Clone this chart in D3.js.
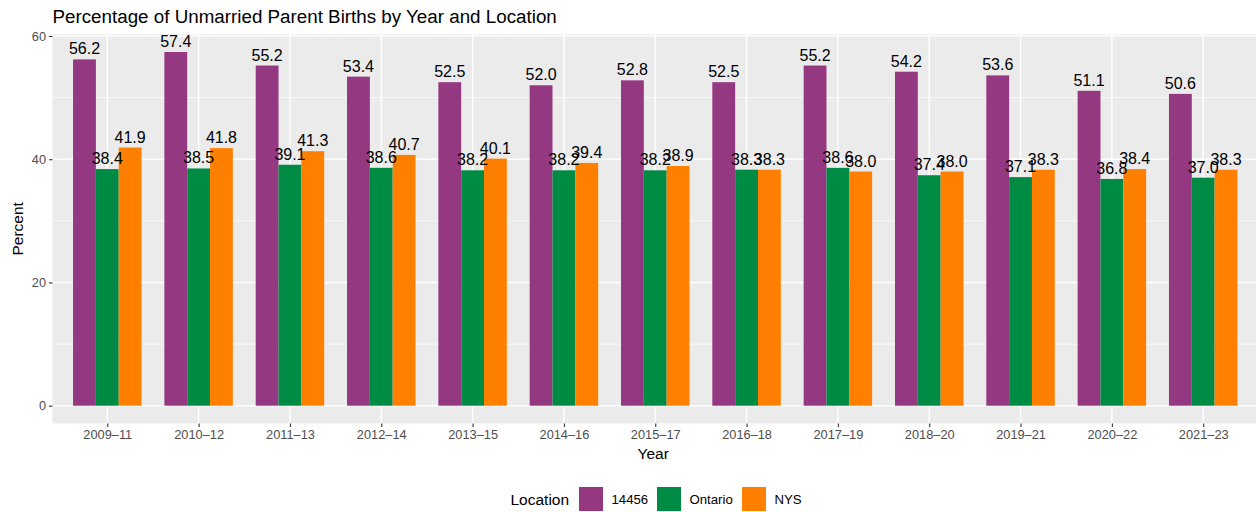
<!DOCTYPE html>
<html>
<head>
<meta charset="utf-8">
<script src="https://cdn.jsdelivr.net/npm/d3@7"></script>
<style>
  body { margin: 0; background: #fff; }
  text { font-family: "Liberation Sans", Arial, sans-serif; }
</style>
</head>
<body>
<div id="chart"></div>
<script>
// chart data
const years = ['2009–11', '2010–12', '2011–13', '2012–14', '2013–15', '2014–16', '2015–17',
               '2016–18', '2017–19', '2018–20', '2019–21', '2020–22', '2021–23'];
const locations = ['14456', 'Ontario', 'NYS'];
const zip14456 = [56.2, 57.4, 55.2, 53.4, 52.5, 52.0, 52.8, 52.5, 55.2, 54.2, 53.6, 51.1, 50.6];
const ontario = [38.4, 38.5, 39.1, 38.6, 38.2, 38.2, 38.2, 38.3, 38.6, 37.4, 37.1, 36.8, 37.0];
const nys = [41.9, 41.8, 41.3, 40.7, 40.1, 39.4, 38.9, 38.3, 38.0, 38.0, 38.3, 38.4, 38.3];
const yTicks = [0, 20, 40, 60];
const yMinor = [10, 30, 50];
const colors = ['#953882', '#008B45', '#FF8000'];

const W = 1256, H = 512;
const panel = { left: 52.5, right: 1258, top: 34.3, bottom: 423.4 };

const series = [zip14456, ontario, nys];
const rows = [];
years.forEach((yr, i) => {
    locations.forEach((loc, j) => {
        rows.push({ year: yr, loc: loc, value: series[j][i] });
    });
});

const svg = d3.select('#chart').append('svg')
    .attr('width', W)
    .attr('height', H);

const maxV = d3.max(rows, d => d.value);
const y = d3.scaleLinear()
    .domain([-0.05 * maxV, maxV * 1.05])
    .range([panel.bottom, panel.top]);

// discrete axis with 0.6 unit expansion each side
const n = years.length;
const step = (panel.right - panel.left) / (n - 1 + 1.2);
const x = d3.scalePoint()
    .domain(years)
    .range([panel.left + 0.6 * step, panel.right - 0.6 * step]);
const inner = d3.scaleBand()
    .domain(locations)
    .range([-0.375 * step, 0.375 * step])
    .padding(0);

// panel background
svg.append('rect')
    .attr('x', panel.left)
    .attr('y', panel.top)
    .attr('width', panel.right - panel.left)
    .attr('height', panel.bottom - panel.top)
    .attr('fill', '#EBEBEB');

// grid
svg.append('g').selectAll('line')
    .data(yMinor)
    .join('line')
    .attr('x1', panel.left).attr('x2', panel.right)
    .attr('y1', d => y(d)).attr('y2', d => y(d))
    .attr('stroke', '#fff').attr('stroke-width', 0.7);
svg.append('g').selectAll('line')
    .data(yTicks)
    .join('line')
    .attr('x1', panel.left).attr('x2', panel.right)
    .attr('y1', d => y(d)).attr('y2', d => y(d))
    .attr('stroke', '#fff').attr('stroke-width', 1.4);
svg.append('g').selectAll('line')
    .data(years)
    .join('line')
    .attr('x1', d => x(d)).attr('x2', d => x(d))
    .attr('y1', panel.top).attr('y2', panel.bottom)
    .attr('stroke', '#fff').attr('stroke-width', 1.4);

// bars
svg.append('g').selectAll('rect')
    .data(rows)
    .join('rect')
    .attr('x', d => x(d.year) + inner(d.loc))
    .attr('y', d => y(d.value))
    .attr('width', inner.bandwidth())
    .attr('height', d => y(0) - y(d.value))
    .attr('fill', d => colors[locations.indexOf(d.loc)]);

// value labels
svg.append('g').selectAll('text')
    .data(rows)
    .join('text')
    .attr('x', d => x(d.year) + inner(d.loc) + inner.bandwidth() / 2)
    .attr('y', d => y(d.value) - 5)
    .attr('text-anchor', 'middle')
    .attr('font-size', 16)
    .attr('fill', '#000')
    .text(d => d.value.toFixed(1));

// y axis
const yAxis = svg.append('g')
    .attr('transform', `translate(${panel.left},0)`)
    .call(d3.axisLeft(y).tickValues(yTicks).tickSize(3.5).tickPadding(3));
yAxis.select('.domain').remove();
yAxis.selectAll('line').attr('stroke', '#333').attr('stroke-width', 1.1);
yAxis.selectAll('text').attr('fill', '#4D4D4D').attr('font-size', 12.8)
    .style('font-family', '"Liberation Sans", Arial, sans-serif');

// x axis
const xAxis = svg.append('g')
    .attr('transform', `translate(0,${panel.bottom})`)
    .call(d3.axisBottom(x).tickSize(3.5).tickPadding(3));
xAxis.select('.domain').remove();
xAxis.selectAll('line').attr('stroke', '#333').attr('stroke-width', 1.1);
xAxis.selectAll('text').attr('fill', '#4D4D4D').attr('font-size', 12.8)
    .style('font-family', '"Liberation Sans", Arial, sans-serif');

// axis titles
svg.append('text')
    .attr('x', (panel.left + panel.right) / 2 - 2)
    .attr('y', 459)
    .attr('text-anchor', 'middle')
    .attr('font-size', 15.5)
    .text('Year');
svg.append('text')
    .attr('transform', `translate(23,${(panel.top + panel.bottom) / 2}) rotate(-90)`)
    .attr('text-anchor', 'middle')
    .attr('font-size', 15.5)
    .text('Percent');

// title, aligned with the panel
svg.append('text')
    .attr('x', panel.left)
    .attr('y', 23)
    .attr('font-size', 18.8)
    .text('Percentage of Unmarried Parent Births by Year and Location');

// legend
const legend = svg.append('g').attr('transform', 'translate(0,499)');
legend.append('text')
    .attr('x', 510.5)
    .attr('y', 5.5)
    .attr('font-size', 15.5)
    .text('Location');
const keyX = [579, 657, 742];
locations.forEach((loc, j) => {
    legend.append('rect')
        .attr('x', keyX[j])
        .attr('y', -12)
        .attr('width', 24)
        .attr('height', 24)
        .attr('fill', colors[j]);
    legend.append('text')
        .attr('x', keyX[j] + 32.5)
        .attr('y', 4.5)
        .attr('font-size', 13.2)
        .attr('fill', '#000')
        .text(loc);
});
</script>
</body>
</html>
